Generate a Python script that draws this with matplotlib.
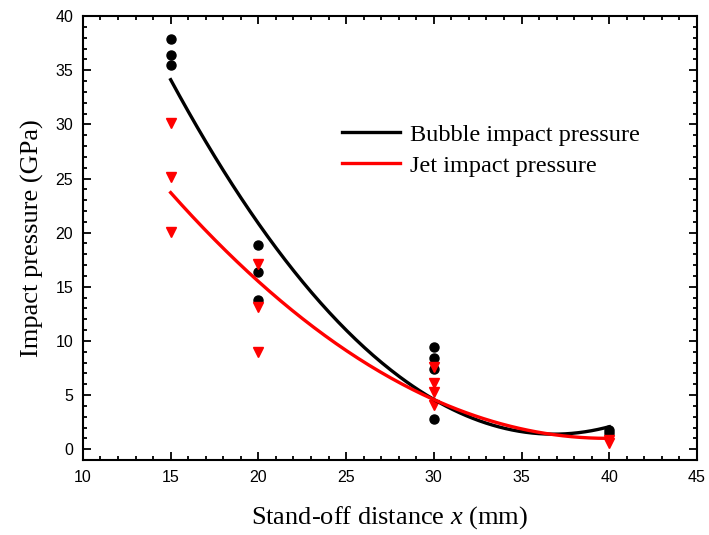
import numpy as np
import matplotlib.pyplot as plt
from matplotlib.ticker import MultipleLocator

# scatter data (x in mm, pressure in GPa)
bubble_x = [15, 15, 15, 20, 20, 20, 30, 30, 30, 30, 40, 40]
bubble_p = [37.9, 36.4, 35.5, 18.9, 16.35, 13.8, 9.4, 8.4, 7.4, 2.8, 1.8, 1.5]
jet_x = [15, 15, 15, 20, 20, 20, 30, 30, 30, 30, 40, 40]
jet_p = [30.1, 25.1, 20.1, 17.1, 13.1, 9.0, 7.6, 6.1, 5.3, 4.1, 0.9, 0.6]

# trend curves
curve_x = [15, 20, 25, 30, 35, 40]
bubble_curve = [34.1, 20.9, 11.0, 4.6, 1.6, 2.1]
jet_curve = [23.7, 15.5, 9.1, 4.6, 1.9, 1.0]

plt.rcParams['font.family'] = ['Liberation Sans', 'DejaVu Sans']
plt.rcParams['mathtext.fontset'] = 'custom'
plt.rcParams['mathtext.it'] = 'Liberation Serif:italic'
plt.rcParams['mathtext.rm'] = 'Liberation Serif'
serif = ['Liberation Serif', 'DejaVu Serif']

fig = plt.figure(figsize=(7.09, 5.35), dpi=100)
ax = fig.add_axes([0.117, 0.140, 0.866, 0.830])

# smooth quadratic through the read curve values
xs = np.linspace(15, 40, 200)
fit_b = np.polyfit(curve_x, bubble_curve, 2)
fit_j = np.polyfit(curve_x, jet_curve, 2)

ax.plot(bubble_x, bubble_p, 'o', color='black', markersize=6.5)
ax.plot(jet_x, jet_p, 'v', color='red', markersize=7)
ax.plot(xs, np.polyval(fit_b, xs), color='black', lw=2.4, label='Bubble impact pressure')
ax.plot(xs, np.polyval(fit_j, xs), color='red', lw=2.4, label='Jet impact pressure')

ax.set_xlim(10, 45)
ax.set_ylim(-1, 40)
ax.xaxis.set_major_locator(MultipleLocator(5))
ax.xaxis.set_minor_locator(MultipleLocator(1))
ax.yaxis.set_major_locator(MultipleLocator(5))
ax.yaxis.set_minor_locator(MultipleLocator(1))
ax.tick_params(which='both', direction='in', top=True, right=True, width=1.3)
ax.tick_params(which='major', length=6, labelsize=11.5, pad=7)
ax.tick_params(which='minor', length=3)
for s in ax.spines.values():
    s.set_linewidth(1.5)

ax.set_xlabel('Stand-off distance $x$ (mm)', fontsize=19, family=serif, labelpad=14)
ax.set_ylabel('Impact pressure (GPa)', fontsize=19, family=serif, labelpad=8)

ax.legend(loc='upper left', bbox_to_anchor=(0.422, 0.757), frameon=False,
          prop={'family': serif, 'size': 17.5}, handlelength=2.4,
          handletextpad=0.4, labelspacing=0.36, borderpad=0, borderaxespad=0)

fig.savefig('out.png', dpi=100)
